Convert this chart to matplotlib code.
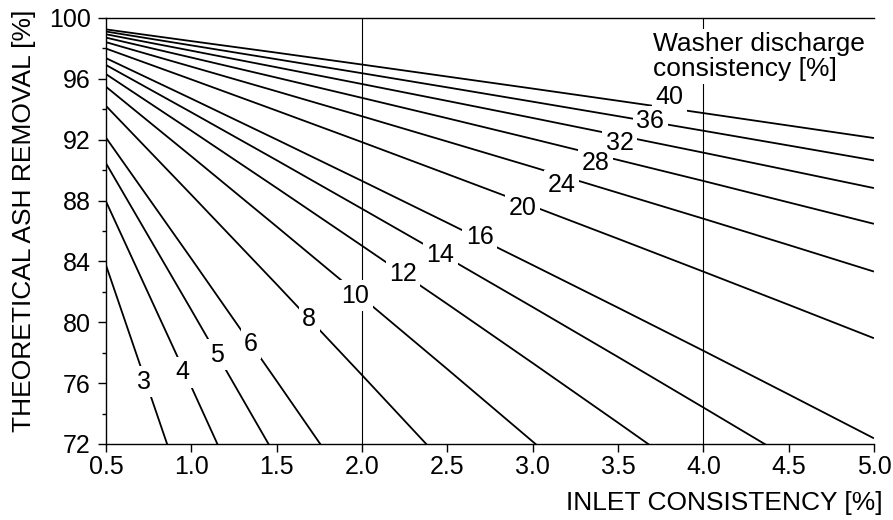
import numpy as np
import matplotlib
matplotlib.use('Agg')
import matplotlib.pyplot as plt
from matplotlib.ticker import MultipleLocator, FormatStrFormatter

plt.rcParams['font.family'] = ['Liberation Sans', 'DejaVu Sans']

# inlet consistency [%], every curve is read at these points (as far as it stays on the chart)
inlet = [0.5, 1.0, 1.5, 2.0, 2.5, 3.0, 3.5, 4.0, 4.5, 5.0]

# washer discharge consistency [%] -> theoretical ash removal [%]
removal = {
    3: [83.75, 67.34],
    4: [87.94, 75.76, 63.45],
    5: [90.45, 80.81, 71.07],
    6: [92.13, 84.18, 76.14, 68.03],
    8: [94.22, 88.38, 82.49, 76.53, 70.51],
    10: [95.48, 90.91, 86.29, 81.63, 76.92, 72.16, 67.36],
    12: [96.31, 92.59, 88.83, 85.03, 81.20, 77.32, 73.40, 69.44],
    14: [96.91, 93.80, 90.65, 87.46, 84.25, 81.00, 77.72, 74.40, 71.06],
    16: [97.36, 94.70, 92.01, 89.29, 86.54, 83.76, 80.96, 78.13, 75.26, 72.37],
    20: [97.99, 95.96, 93.91, 91.84, 89.74, 87.63, 85.49, 83.33, 81.15, 78.95],
    24: [98.41, 96.80, 95.18, 93.54, 91.88, 90.21, 88.51, 86.81, 85.08, 83.33],
    28: [98.71, 97.40, 96.08, 94.75, 93.41, 92.05, 90.67, 89.29, 87.88, 86.47],
    32: [98.93, 97.85, 96.76, 95.66, 94.55, 93.43, 92.29, 91.15, 89.99, 88.82],
    36: [99.11, 98.20, 97.29, 96.37, 95.44, 94.50, 93.55, 92.59, 91.62, 90.64],
    40: [99.25, 98.48, 97.72, 96.94, 96.15, 95.36, 94.56, 93.75, 92.93, 92.11],
}

# where each curve label sits (data coords)
label_pos = {
    3: (0.72, 76.1), 4: (0.95, 76.7), 5: (1.15, 77.85), 6: (1.35, 78.6),
    8: (1.69, 80.2), 10: (1.96, 81.75), 12: (2.24, 83.2), 14: (2.46, 84.45),
    16: (2.69, 85.6), 20: (2.94, 87.5), 24: (3.17, 89.0), 28: (3.37, 90.45),
    32: (3.51, 91.8), 36: (3.69, 93.2), 40: (3.80, 94.8),
}

fig = plt.figure(figsize=(8.93, 5.2), dpi=100)
ax = fig.add_axes([0.1187, 0.1462, 0.86, 0.8192])

for co, vals in removal.items():
    ax.plot(inlet[:len(vals)], vals, color='black', lw=1.3, solid_capstyle='butt', zorder=2)

for xv in (2.0, 4.0):
    ax.axvline(xv, color='black', lw=0.8, zorder=1)

# white patches first (cut the lines), then the numbers on top so no box hides a neighbour
for co, (lx, ly) in label_pos.items():
    ax.text(lx, ly, str(co), fontsize=18, ha='center', va='center', color='white', zorder=4,
            bbox=dict(facecolor='white', edgecolor='none', pad=2.5))
for co, (lx, ly) in label_pos.items():
    ax.text(lx, ly, str(co), fontsize=18, ha='center', va='center', zorder=6)

ax.text(3.705, 99.1, 'Washer discharge\nconsistency [%]', fontsize=19, ha='left', va='top',
        linespacing=1.05, zorder=5, bbox=dict(facecolor='white', edgecolor='none', pad=2))

ax.set_xlim(0.5, 5.0)
ax.set_ylim(72, 100)
ax.xaxis.set_major_locator(MultipleLocator(0.5))
ax.xaxis.set_major_formatter(FormatStrFormatter('%.1f'))
ax.yaxis.set_major_locator(MultipleLocator(4))
ax.yaxis.set_minor_locator(MultipleLocator(2))

ax.spines['right'].set_visible(False)
for s in ('left', 'bottom', 'top'):
    ax.spines[s].set_linewidth(1.0)
ax.tick_params(axis='both', which='major', direction='out', length=5.5, width=1.0, labelsize=18)
ax.tick_params(axis='y', which='minor', direction='out', length=3.2, width=1.0)
ax.tick_params(axis='x', pad=2.5)
ax.tick_params(axis='y', pad=5.5)
ax.tick_params(top=False, right=False)

fig.text(24.5 / 893, 1 - 221 / 520, 'THEORETICAL ASH REMOVAL [%]', rotation=90,
         fontsize=19, ha='center', va='center')
fig.text(883 / 893, 1 - 503 / 520, 'INLET CONSISTENCY [%]', fontsize=19, ha='right', va='center')

fig.savefig('out.png', dpi=100)
